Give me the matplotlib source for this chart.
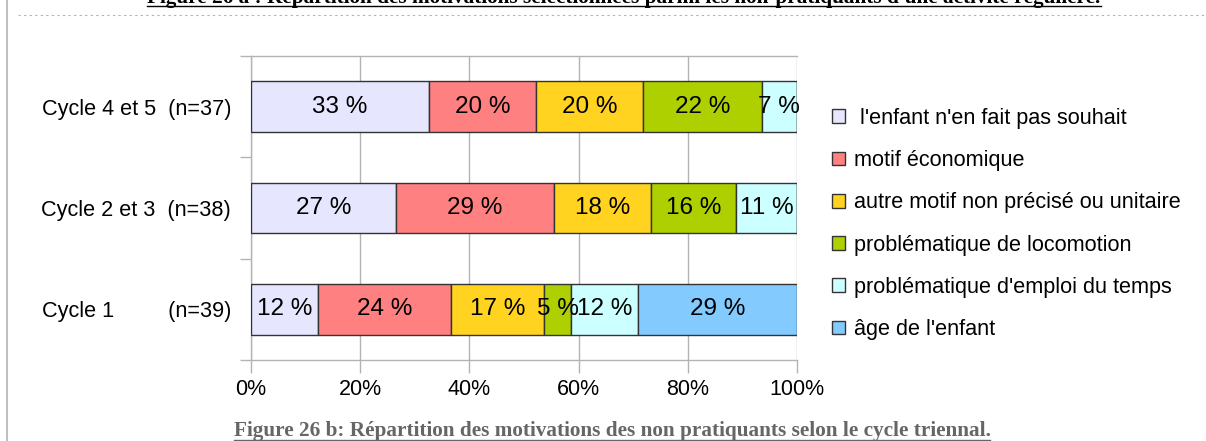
import matplotlib
matplotlib.use("Agg")
import matplotlib.pyplot as plt
from matplotlib.lines import Line2D
import numpy as np

plt.rcParams['font.family'] = ['Liberation Sans', 'DejaVu Sans']

# data (bottom to top)
categories = ["Cycle 1" + " " * 9 + "(n=39)",
              "Cycle 2 et 3  (n=38)",
              "Cycle 4 et 5  (n=37)"]
series = [" l'enfant n'en fait pas souhait",
          "motif économique",
          "autre motif non précisé ou unitaire",
          "problématique de locomotion",
          "problématique d'emploi du temps",
          "âge de l'enfant"]
enfant = [12.2, 26.6, 32.6]
economique = [24.4, 28.9, 19.6]
autre = [17.1, 17.8, 19.6]
locomotion = [4.9, 15.5, 21.7]
emploi = [12.2, 11.2, 6.5]
age = [29.2, 0, 0]
values = [enfant, economique, autre, locomotion, emploi, age]
colors = ["#e6e6ff", "#ff8080", "#ffd320", "#aecf00", "#ccffff", "#83caff"]
xticks = [0, 20, 40, 60, 80, 100]

W, H = 1206, 441
fig = plt.figure(figsize=(W / 100, H / 100), dpi=100)
ax = fig.add_axes([251 / W, 1 - 360 / H, 546 / W, 304 / H])

y = np.arange(len(categories))
left = np.zeros(len(categories))
for name, vals, col in zip(series, values, colors):
    vals = np.array(vals)
    bars = ax.barh(y, vals, 0.5, left=left, color=col, edgecolor="#333333",
                   linewidth=1, label=name, zorder=3)
    for b, v in zip(bars, vals):
        if v > 0:
            ax.text(b.get_x() + b.get_width() / 2, b.get_y() + b.get_height() / 2,
                    "%d %%" % int(v + 0.5), ha="center", va="center",
                    fontsize=17.5, color="black", zorder=4)
    left += vals

ax.set_xlim(0, 100)
ax.set_ylim(-0.5, 2.5)
ax.set_xticks(xticks)
ax.set_xticklabels(["%d%%" % t for t in xticks], fontsize=15.5)
ax.set_yticks([-0.5, 0.5, 1.5, 2.5])
ax.set_yticklabels([])
ax.set_yticks(y, minor=True)
ax.set_yticklabels(categories, minor=True, fontsize=15.6)
ax.tick_params(axis="y", which="minor", length=0, pad=14.4)
ax.tick_params(axis="y", which="major", length=8, color="#b3b3b3", width=1)
ax.tick_params(axis="x", length=9, color="#b3b3b3", width=1, pad=5)
ax.xaxis.grid(True, color="#b3b3b3", linewidth=1, zorder=0)
ax.set_axisbelow(True)
for s in ["top", "bottom", "left"]:
    ax.spines[s].set_color("#b3b3b3")
    ax.spines[s].set_linewidth(1)
ax.spines["right"].set_visible(False)

handles, labels = ax.get_legend_handles_labels()
fig.legend(handles, labels, loc="center left", bbox_to_anchor=(832 / W, 1 - 224 / H),
           frameon=False, fontsize=15.6, handlelength=0.6, handleheight=0.6,
           handletextpad=0.4, labelspacing=0.98, borderpad=0, borderaxespad=0)

# page decorations
fig.add_artist(Line2D([7 / W, 7 / W], [0, 1], color="#c0c0c0", linewidth=1.5))
fig.add_artist(Line2D([18 / W, 1], [1 - 15 / H] * 2, color="#b0b0b0", linewidth=0.8,
                      linestyle=(0, (2, 3))))

t1 = fig.text(624 / W, 1 - 3 / H,
              "Figure 26 a : Répartition des motivations sélectionnées parmi les non-pratiquants d'une activité régulière.",
              ha="center", va="baseline", fontsize=15.3, fontweight="bold",
              family="Liberation Serif", color="black")
t2 = fig.text(612 / W, 1 - 436 / H,
              "Figure 26 b: Répartition des motivations des non pratiquants selon le cycle triennal.",
              ha="center", va="baseline", fontsize=15.3, fontweight="bold",
              family="Liberation Serif", color="#666666")

fig.canvas.draw()
r = fig.canvas.get_renderer()
for t, yy, c in [(t1, 5.5, "black"), (t2, 439.5, "#666666")]:
    bb = t.get_window_extent(r)
    fig.add_artist(Line2D([bb.x0 / W, bb.x1 / W], [1 - yy / H] * 2, color=c, linewidth=1))

fig.savefig("out.png", dpi=100)
